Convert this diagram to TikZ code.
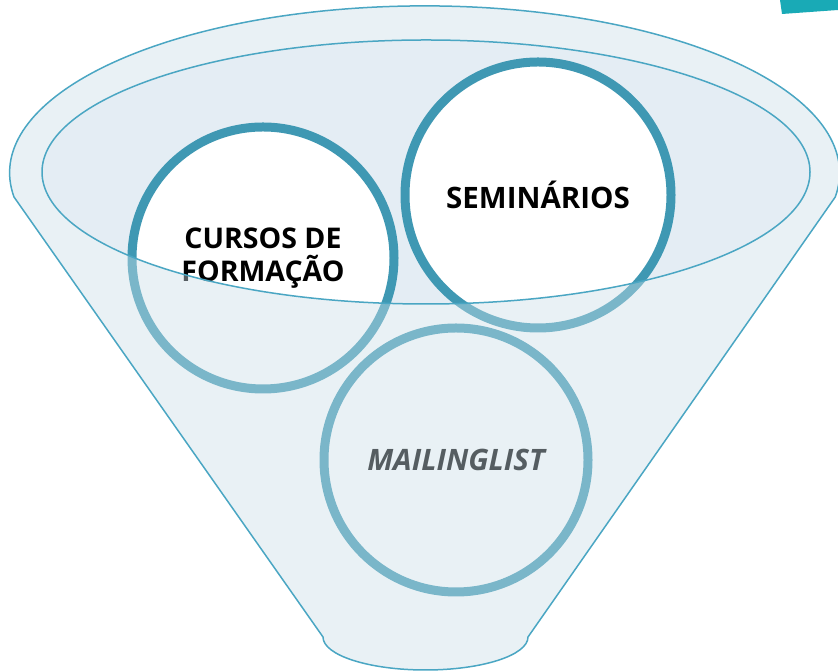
\documentclass[tikz,border=0pt]{standalone}
\usepackage{fontspec}
\setmainfont{Open Sans}
\usetikzlibrary{shadows}
\definecolor{rim}{HTML}{4AA6C3}
\definecolor{ring}{HTML}{3F98B3}
\definecolor{wash}{RGB}{204,224,233}
\definecolor{lid}{HTML}{E4EDF4}
\definecolor{tab}{HTML}{19AAB6}
\begin{document}
\begin{tikzpicture}[x=1pt, y=1pt, line join=round, line cap=round,
    disc/.style={circle, draw=ring, line width=9pt, fill=white, minimum size=262pt,
      inner sep=0pt, align=center,
      drop shadow={opacity=.25, shadow xshift=2pt, shadow yshift=-3pt}},
    label font/.style={font=\bfseries\fontsize{#1}{33}\selectfont}]
  \useasboundingbox (0,0) rectangle (838,671);
  % funnel back and mouth
  \fill[white] (14,474) arc[start angle=188.3, end angle=-8.3, x radius=415pt, y radius=167pt]
    -- (528,34) arc[start angle=0, end angle=-180, x radius=102.5pt, y radius=33pt] -- cycle;
  \fill[lid] (426,499) ellipse[x radius=384pt, y radius=132pt];
  % the three items
  \node[disc, label font=28.5] (cursos) at (263,413) {CURSOS DE\\FORMAÇÃO};
  \node[disc, label font=29.5, minimum size=266pt] (seminarios) at (538,476) {SEMINÁRIOS};
  \node[disc, font=\bfseries\itshape\fontsize{29.5}{33}\selectfont, minimum size=264pt] (mailing) at (456,211) {MAILINGLIST};
  % front of the funnel
  \fill[wash, fill opacity=.42, even odd rule]
    (14,474) arc[start angle=188.3, end angle=-8.3, x radius=415pt, y radius=167pt]
    -- (528,34) arc[start angle=0, end angle=-180, x radius=102.5pt, y radius=33pt] -- cycle
    (426,499) ellipse[x radius=384pt, y radius=132pt];
  \draw[rim, line width=1.5pt] (14,474) arc[start angle=188.3, end angle=-8.3, x radius=415pt, y radius=167pt]
    -- (528,34) arc[start angle=0, end angle=-180, x radius=102.5pt, y radius=33pt] -- cycle;
  \draw[rim, line width=1.5pt] (426,499) ellipse[x radius=384pt, y radius=132pt];
  % corner tab
  \fill[tab] (780,671) -- (782,657) -- (838,661) -- (838,671) -- cycle;
\end{tikzpicture}
\end{document}
